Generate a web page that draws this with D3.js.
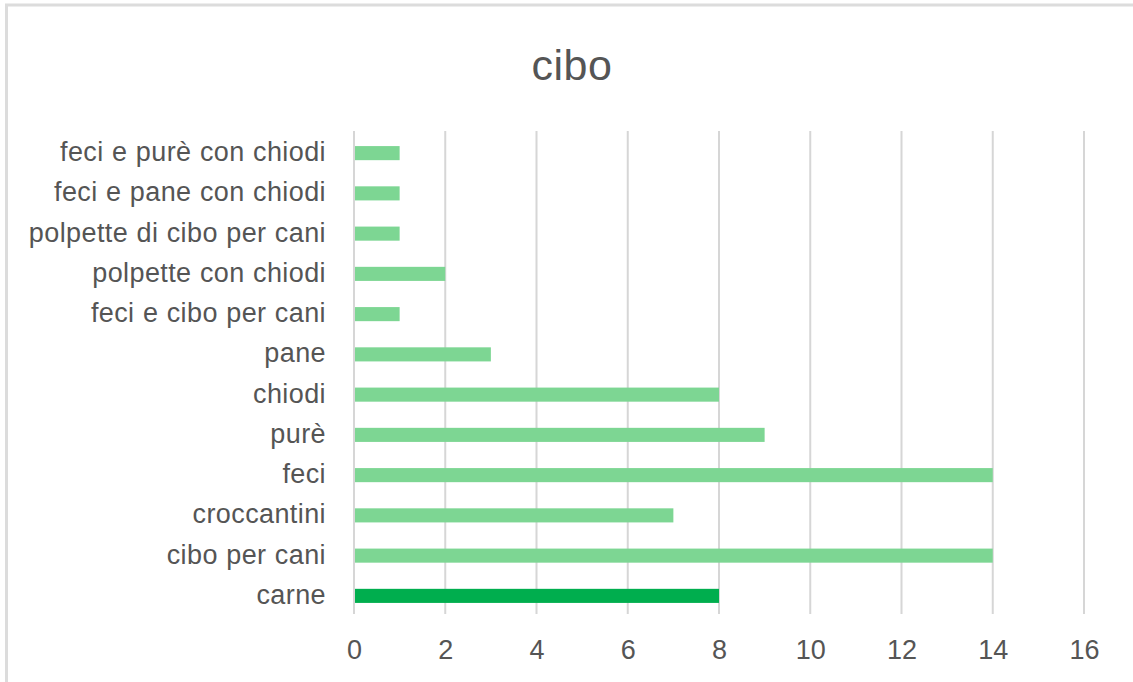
<!DOCTYPE html>
<html>
<head>
<meta charset="utf-8">
<script src="https://cdn.jsdelivr.net/npm/d3@7"></script>
<style>
  html, body { margin: 0; padding: 0; background: #fff; }
  svg { display: block; }
  text { font-family: "Liberation Sans", Arial, Helvetica, sans-serif; fill: #555; }
</style>
</head>
<body>
<svg id="chart" width="1133" height="682"></svg>
<script>
// Categories, listed from the bottom bar upward
const categories = [
  "carne", "cibo per cani", "croccantini", "feci", "purè", "chiodi", "pane",
  "feci e cibo per cani", "polpette con chiodi", "polpette di cibo per cani",
  "feci e pane con chiodi", "feci e purè con chiodi"
];
const values = [8, 14, 7, 14, 9, 8, 3, 1, 2, 1, 1, 1];
const highlighted = ["carne"];
const xTicks = [0, 2, 4, 6, 8, 10, 12, 14, 16];
const title = "cibo";

const svg = d3.select("#chart");
const W = 1133, H = 682;

// Outer frame (top and left edges visible)
svg.append("rect")
  .attr("x", 6.5).attr("y", 5)
  .attr("width", W + 10).attr("height", H + 10)
  .attr("fill", "none").attr("stroke", "#dcdcdc").attr("stroke-width", 3);

const x = d3.scaleLinear().domain([0, 16]).range([354, 1084]);
const y = d3.scaleBand()
  .domain(categories.slice().reverse())
  .range([133, 616])
  .paddingInner(0.65).paddingOuter(0.325);

// Title
svg.append("text")
  .attr("x", 572).attr("y", 80)
  .attr("text-anchor", "middle")
  .style("font-size", "43px")
  .style("letter-spacing", "0.5px")
  .attr("fill", "#4d4d4d")
  .text(title);

// Vertical gridlines
svg.append("g")
  .selectAll("line")
  .data(xTicks)
  .join("line")
  .attr("x1", d => x(d)).attr("x2", d => x(d))
  .attr("y1", 131).attr("y2", 614)
  .attr("stroke", "#d6d6d6").attr("stroke-width", 2);

// Bars
svg.append("g")
  .selectAll("rect")
  .data(categories.map((c, i) => ({ c, v: values[i] })))
  .join("rect")
  .attr("x", x(0) + 1)
  .attr("y", d => y(d.c))
  .attr("width", d => x(d.v) - x(0) - 1)
  .attr("height", y.bandwidth())
  .attr("fill", d => highlighted.includes(d.c) ? "#00ae4e" : "#7dd693");

// Category labels
const yAxis = d3.axisLeft(y).tickSize(0).tickPadding(28);
const gy = svg.append("g").attr("transform", `translate(${x(0)},0)`).call(yAxis);
gy.select(".domain").remove();
gy.selectAll("text")
  .style("font-size", "27px")
  .style("letter-spacing", "0.4px")
  .style("word-spacing", "0.5px")
  .style("font-family", "'Liberation Sans', Arial, sans-serif")
  .attr("fill", "#555")
  .attr("dy", "0.3em");

// Value axis labels
const xAxis = d3.axisBottom(x).tickValues(xTicks).tickSize(0).tickPadding(0);
const gx = svg.append("g").attr("transform", "translate(0,659)").call(xAxis);
gx.select(".domain").remove();
gx.selectAll("text")
  .style("font-size", "27px")
  .style("font-family", "'Liberation Sans', Arial, sans-serif")
  .attr("fill", "#555")
  .attr("dy", "0");
</script>
</body>
</html>
